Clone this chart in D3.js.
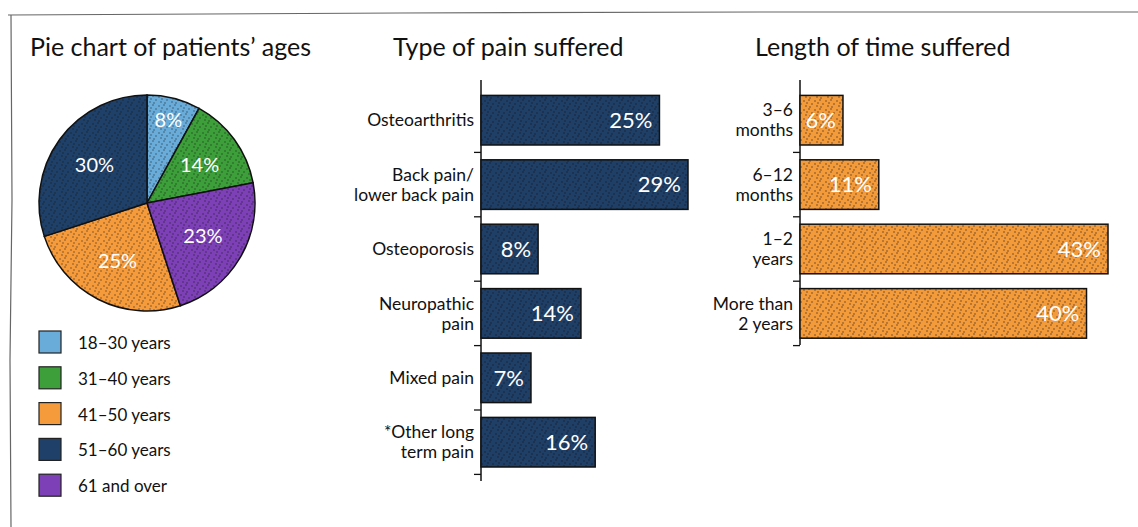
<!DOCTYPE html>
<html>
<head>
<meta charset="utf-8">
<script src="https://cdn.jsdelivr.net/npm/d3@7"></script>
<style>
  body { margin: 0; background: #fff; }
  svg { display: block; font-family: "Lato", "Open Sans", sans-serif; }
</style>
</head>
<body>
<div id="chart"></div>
<script>
// pie: legend order
const ageGroups = ["18-30 years", "31-40 years", "41-50 years", "51-60 years", "61 and over"];
const agePct = [8, 14, 25, 30, 23];
const ageColors = ["#69acd9", "#3d9f39", "#f59b3c", "#1f4068", "#7d40b7"];
// clockwise order from 12 o'clock
const pieOrder = ["18-30 years", "31-40 years", "61 and over", "41-50 years", "51-60 years"];

const painTypes = ["Osteoarthritis", "Back pain/\nlower back pain", "Osteoporosis", "Neuropathic\npain", "Mixed pain", "*Other long\nterm pain"];
const painPct = [25, 29, 8, 14, 7, 16];

const durations = ["3-6\nmonths", "6-12\nmonths", "1-2\nyears", "More than\n2 years"];
const durationPct = [6, 11, 43, 40];

const width = 1138, height = 527;

const svg = d3.select("#chart").append("svg")
  .attr("width", width)
  .attr("height", height);

// speckle texture
const defs = svg.append("defs");
const pat = defs.append("pattern")
  .attr("id", "speckle")
  .attr("patternUnits", "userSpaceOnUse")
  .attr("width", 11).attr("height", 9);
[[1, 2], [6, 1], [9, 5], [3, 7], [7, 8], [4, 4]].forEach(function(p) {
  pat.append("circle").attr("cx", p[0]).attr("cy", p[1]).attr("r", 0.75).attr("fill", "#111");
});

// border
svg.append("path")
  .attr("d", "M8,15 L400,13 L760,12 L1138,12 M11,15 L12,200 L10,360 L11,527")
  .attr("fill", "none")
  .attr("stroke", "#666")
  .attr("stroke-width", 1.2);

// titles
const titles = [["Pie chart of patients\u2019 ages", 30], ["Type of pain suffered", 393], ["Length of time suffered", 755]];
svg.selectAll(".title").data(titles).enter().append("text")
  .attr("class", "title")
  .attr("x", d => d[1])
  .attr("y", 56)
  .attr("font-size", 25)
  .attr("fill", "#111")
  .text(d => d[0]);

// ---- pie ----
const color = d3.scaleOrdinal().domain(ageGroups).range(ageColors);
const ageData = ageGroups.map((g, i) => ({ group: g, value: agePct[i] }));
const pie = d3.pie()
  .value(d => d.value)
  .sort((a, b) => pieOrder.indexOf(a.group) - pieOrder.indexOf(b.group));
const radius = 108;
const arc = d3.arc().innerRadius(0).outerRadius(radius);
const labelArc = d3.arc().innerRadius(0).outerRadius(130);
const smallArc = d3.arc().innerRadius(0).outerRadius(172);

const gPie = svg.append("g").attr("transform", "translate(147,203)");
const slices = gPie.selectAll(".slice").data(pie(ageData)).enter().append("g");
slices.append("path")
  .attr("d", arc)
  .attr("fill", d => color(d.data.group))
  .attr("stroke", "#111")
  .attr("stroke-width", 1.5);
slices.append("path")
  .attr("d", arc)
  .attr("fill", "url(#speckle)")
  .attr("opacity", 0.6);
slices.append("text")
  .attr("transform", d => "translate(" + (d.data.value < 10 ? smallArc : labelArc).centroid(d) + ")")
  .attr("text-anchor", "middle")
  .attr("dy", "0.35em")
  .attr("font-size", 20)
  .attr("fill", "#fff")
  .text(d => d.data.value + "%");

// legend
const legend = svg.append("g");
const ly = d3.scaleBand().domain(ageGroups).range([331, 510]);
const lrow = legend.selectAll(".lrow").data(ageGroups).enter().append("g")
  .attr("transform", d => "translate(39," + ly(d) + ")");
lrow.append("rect")
  .attr("width", 22).attr("height", 22)
  .attr("fill", d => color(d))
  .attr("stroke", "#222")
  .attr("stroke-width", 1.2);
lrow.append("text")
  .attr("x", 39).attr("y", 12)
  .attr("dy", "0.35em")
  .attr("font-size", 17)
  .attr("fill", "#111")
  .text(d => d.replace("-", "\u2013"));

// ---- bar charts ----
function barChart(cats, vals, x0, xMax, vMax, y0, fill, labelRight, axisEnd) {
  const x = d3.scaleLinear().domain([0, vMax]).range([x0, xMax]);
  const step = 64.4;
  const y = d3.scaleBand().domain(cats)
    .range([y0, y0 + step * cats.length])
    .paddingInner(0.23).paddingOuter(0.115);
  const g = svg.append("g");
  const data = cats.map((c, i) => ({ cat: c, value: vals[i] }));

  g.append("line")
    .attr("x1", x0).attr("x2", x0)
    .attr("y1", y0 - 8).attr("y2", axisEnd)
    .attr("stroke", "#111").attr("stroke-width", 1.5);

  g.selectAll(".tick").data(d3.range(1, cats.length + 1)).enter().append("line")
    .attr("x1", x0 - 7).attr("x2", x0)
    .attr("y1", i => y0 + y.step() * i)
    .attr("y2", i => y0 + y.step() * i)
    .attr("stroke", "#111").attr("stroke-width", 1.3);

  const bars = g.selectAll(".bar").data(data).enter().append("g");
  bars.append("rect")
    .attr("x", x(0)).attr("y", d => y(d.cat))
    .attr("width", d => x(d.value) - x(0))
    .attr("height", y.bandwidth())
    .attr("fill", fill)
    .attr("stroke", "#111").attr("stroke-width", 1.5);
  bars.append("rect")
    .attr("x", x(0)).attr("y", d => y(d.cat))
    .attr("width", d => x(d.value) - x(0))
    .attr("height", y.bandwidth())
    .attr("fill", "url(#speckle)")
    .attr("opacity", 0.65);
  bars.append("text")
    .attr("x", d => x(d.value) - 7)
    .attr("y", d => y(d.cat) + y.bandwidth() / 2)
    .attr("dy", "0.35em")
    .attr("text-anchor", "end")
    .attr("font-size", 22)
    .attr("fill", "#fff")
    .text(d => d.value + "%");

  const labels = g.selectAll(".cat").data(cats).enter().append("text")
    .attr("text-anchor", "end")
    .attr("font-size", 17.5)
    .attr("fill", "#111");
  labels.each(function(c) {
    const lines = c.split("\n");
    const cy = y(c) + y.bandwidth() / 2;
    d3.select(this).selectAll("tspan").data(lines).enter().append("tspan")
      .attr("x", labelRight)
      .attr("y", (l, i) => cy + (i - (lines.length - 1) / 2) * 20)
      .attr("dy", "0.35em")
      .text(l => l.replace("-", "\u2013"));
  });
}

barChart(painTypes, painPct, 481, 688, 29, 88, "#1f3f66", 474, 481);
barChart(durations, durationPct, 800, 1108, 43, 88, "#f39a3b", 793, 345);
</script>
</body>
</html>
